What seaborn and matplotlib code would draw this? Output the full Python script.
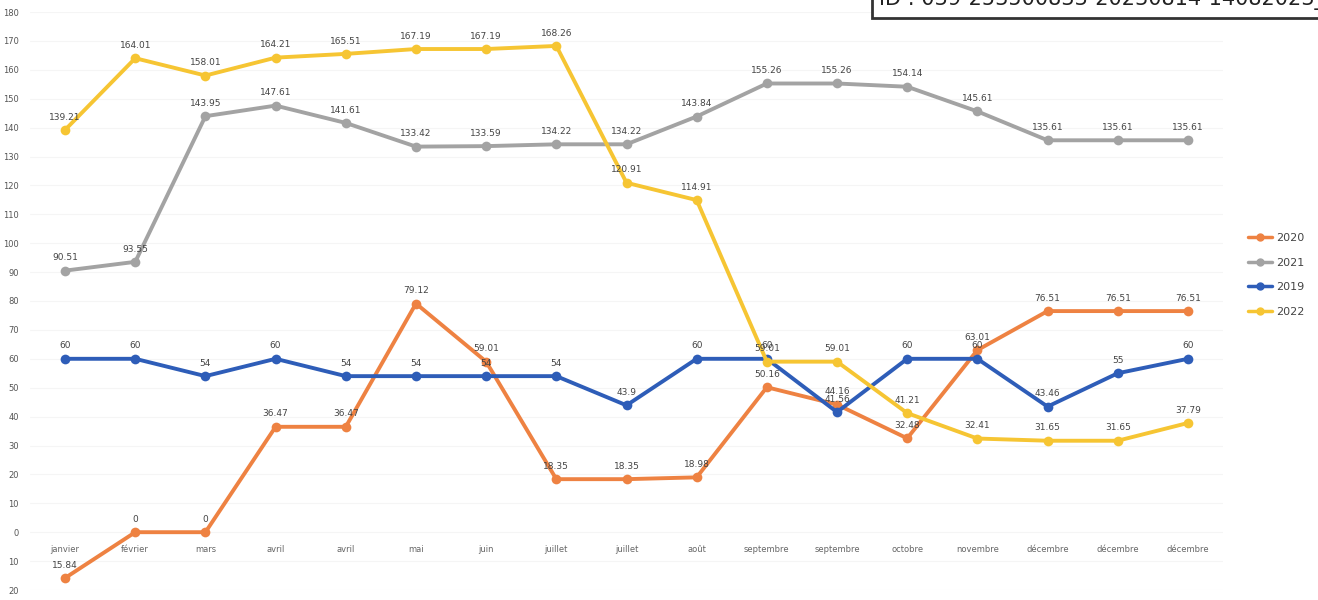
import pandas as pd
import numpy as np
import matplotlib.pyplot as plt
import seaborn as sns

mois = ['janvier', 'février', 'mars', 'avril', 'avril', 'mai', 'juin', 'juillet', 'juillet',
        'août', 'septembre', 'septembre', 'octobre', 'novembre', 'décembre', 'décembre', 'décembre']
v2020 = [-15.84, 0, 0, 36.47, 36.47, 79.12, 59.01, 18.35, 18.35, 18.98, 50.16, 44.16,
         32.48, 63.01, 76.51, 76.51, 76.51]
v2021 = [90.51, 93.55, 143.95, 147.61, 141.61, 133.42, 133.59, 134.22, 134.22, 143.84,
         155.26, 155.26, 154.14, 145.61, 135.61, 135.61, 135.61]
v2019 = [60, 60, 54, 60, 54, 54, 54, 54, 43.9, 60, 60, 41.56, 60, 60, 43.46, 55, 60]
v2022 = [139.21, 164.01, 158.01, 164.21, 165.51, 167.19, 167.19, 168.26, 120.91, 114.91,
         59.01, 59.01, 41.21, 32.41, 31.65, 31.65, 37.79]
series = ['2020', '2021', '2019', '2022']
colors = ['#EE8242', '#A3A3A3', '#2E5DB8', '#F6C533']

rows = []
for name, vals in zip(series, [v2020, v2021, v2019, v2022]):
    for i, v in enumerate(vals):
        rows.append({'x': i, 'valeur': v, 'annee': name})
df = pd.DataFrame(rows)

sns.set_style('white')
plt.rcParams['font.family'] = ['DejaVu Sans']

fig = plt.figure(figsize=(13.18, 6), dpi=100)
ax = fig.add_axes([30 / 1318, 10 / 600, 1193 / 1318, 578 / 600])

sns.lineplot(data=df, x='x', y='valeur', hue='annee', hue_order=series,
             palette=colors, marker='o', markersize=7, markeredgewidth=0,
             linewidth=2.8, ax=ax, legend=False)

def fmt(v):
    return f'{abs(v):g}'

for name, vals in zip(series, [v2020, v2021, v2019, v2022]):
    for i, v in enumerate(vals):
        ax.annotate(fmt(v), (i, v), xytext=(0, 6), textcoords='offset points',
                    ha='center', va='bottom', fontsize=6.5, color='#444444')

# axe des x au niveau du zéro, comme dans Excel
ax.spines['bottom'].set_position(('data', 0))
for s in ax.spines.values():
    s.set_visible(False)

ax.set_xlim(-0.5, len(mois) - 0.5)
ax.set_ylim(-20, 180)
ticks = np.arange(-20, 181, 10)
ax.set_yticks(ticks)
ax.set_yticklabels([fmt(t) for t in ticks], fontsize=6, color='#555555')
ax.set_xticks(range(len(mois)))
ax.set_xticklabels(mois, fontsize=6, color='#666666')
ax.tick_params(length=0)
ax.tick_params(axis='x', pad=9)
ax.tick_params(axis='y', pad=8)
ax.grid(axis='y', color='#F5F5F5', linewidth=0.8)
ax.set_axisbelow(True)
ax.set_xlabel('')
ax.set_ylabel('')

handles = [plt.Line2D([], [], color=c, marker='o', markersize=5, linewidth=2.5)
           for c in colors]
fig.legend(handles, series, loc='center left', bbox_to_anchor=(1238 / 1318, 325 / 600),
           frameon=False, fontsize=8, handlelength=2.2, handletextpad=0.3,
           labelspacing=1.3, labelcolor='#444444')

fig.text(0.667, 1.0, 'ID : 039-253500833-20230814-14082023_4CC-DE', fontsize=15,
         va='center', ha='left', color='#222222',
         bbox=dict(boxstyle='square,pad=0.35', facecolor='white', edgecolor='#333333',
                   linewidth=2))

fig.savefig('out.png', dpi=100)
